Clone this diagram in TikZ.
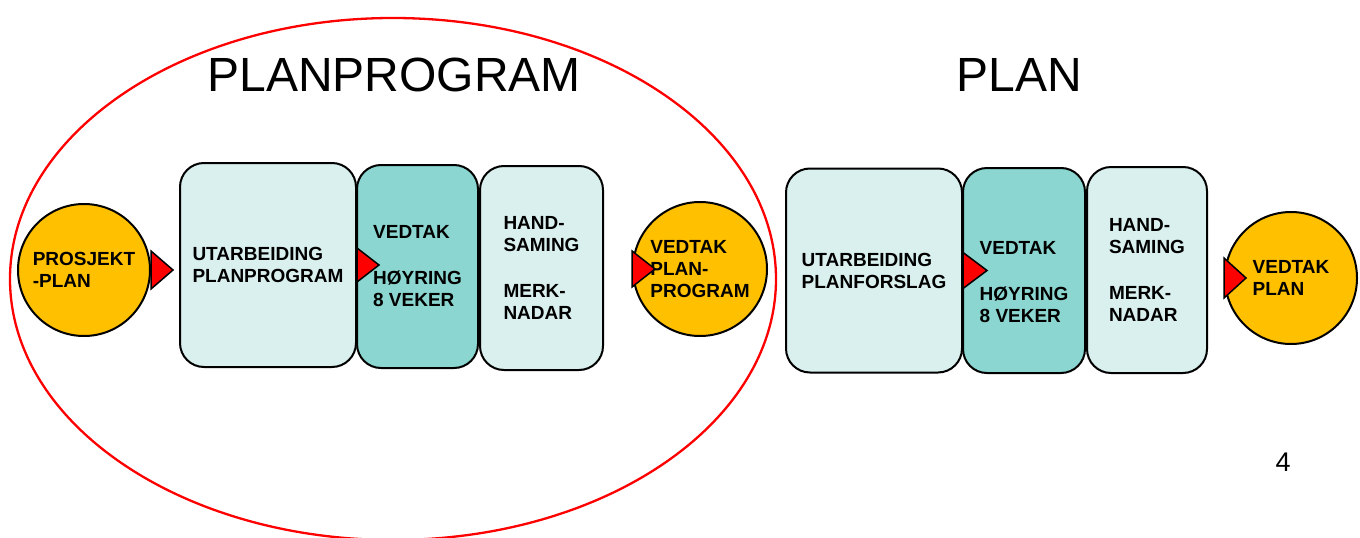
\documentclass[tikz,border=0pt]{standalone}
\usepackage{fontspec}
\setmainfont{Liberation Sans}
\usetikzlibrary{calc}
\definecolor{lightbox}{HTML}{D9F0EE}
\definecolor{darkbox}{HTML}{8BD6D0}
\definecolor{gold}{HTML}{FFC000}
\begin{document}
\begin{tikzpicture}[x=1pt,y=-1pt,
  boxtext/.style={align=left, font=\bfseries\fontsize{19}{22}\selectfont},
  box/.style={draw=black, line width=2pt, rounded corners=24pt, inner sep=0pt, boxtext},
  lbox/.style={box, fill=lightbox},
  dbox/.style={box, fill=darkbox},
  disc/.style={circle, draw=black, line width=2pt, fill=gold, minimum size=132pt, inner sep=0pt, boxtext},
  tri/.style={draw=black, line width=1.5pt, fill=red, line join=miter}]
\useasboundingbox (0,0) rectangle (1360,538);
% big red ellipse
\draw[red, line width=2.3pt] (393,279) ellipse [x radius=383, y radius=261];
% titles
\node[font=\fontsize{48}{48}\selectfont, inner sep=0pt] (t1) at (394,75) {PLANPROGRAM};
\node[font=\fontsize{48}{48}\selectfont, inner sep=0pt] (t2) at (1019,75) {PLAN};
\node[font=\fontsize{27}{27}\selectfont, inner sep=0pt] (pg) at (1283,462) {4};
% left group
\node[disc] (p1) at (84,270) {PROSJEKT\\-PLAN};
\node[lbox, minimum width=176pt, minimum height=204pt] (u1) at (268,265) {UTARBEIDING\\PLANPROGRAM};
\node[dbox, minimum width=121pt, minimum height=203pt] (v1) at (417.5,266.5) {VEDTAK\\[24pt]HØYRING\\8 VEKER};
\node[lbox, minimum width=123pt, minimum height=204pt] (h1) at (541.5,268) {HAND-\\SAMING\\[24pt]MERK-\\NADAR};
\node[disc, minimum size=134pt] (p2) at (700,269) {VEDTAK\\PLAN-\\PROGRAM};
% right group
\node[lbox, minimum width=176pt, minimum height=204pt] (u2) at (874,270.5) {UTARBEIDING\\PLANFORSLAG};
\node[dbox, minimum width=122pt, minimum height=205pt,
      label={[boxtext, yshift=-12pt]center:VEDTAK\\[24pt]HØYRING\\8 VEKER}] (v2) at (1024,270.5) {};
\node[lbox, minimum width=120pt, minimum height=206pt] (h2) at (1147,270) {HAND-\\SAMING\\[24pt]MERK-\\NADAR};
\node[disc] (p3) at (1291,278) {VEDTAK\\PLAN};
% red triangle markers
\draw[tri] ($(p1.east)+(0,-19)$) -- ++(22,19) -- ++(-22,19) -- cycle;
\draw[tri] ($(u1.east)+(0,-17)$) -- ++(22,17) -- ++(-22,17) -- cycle;
\draw[tri] ($(p2.west)+(0,-18)$) -- ++(23,18) -- ++(-23,18) -- cycle;
\draw[tri] ($(u2.east)+(0,-18)$) -- ++(24,18) -- ++(-24,18) -- cycle;
\draw[tri] ($(p3.west)+(0,-20)$) -- ++(22,20) -- ++(-22,20) -- cycle;
\end{tikzpicture}
\end{document}
